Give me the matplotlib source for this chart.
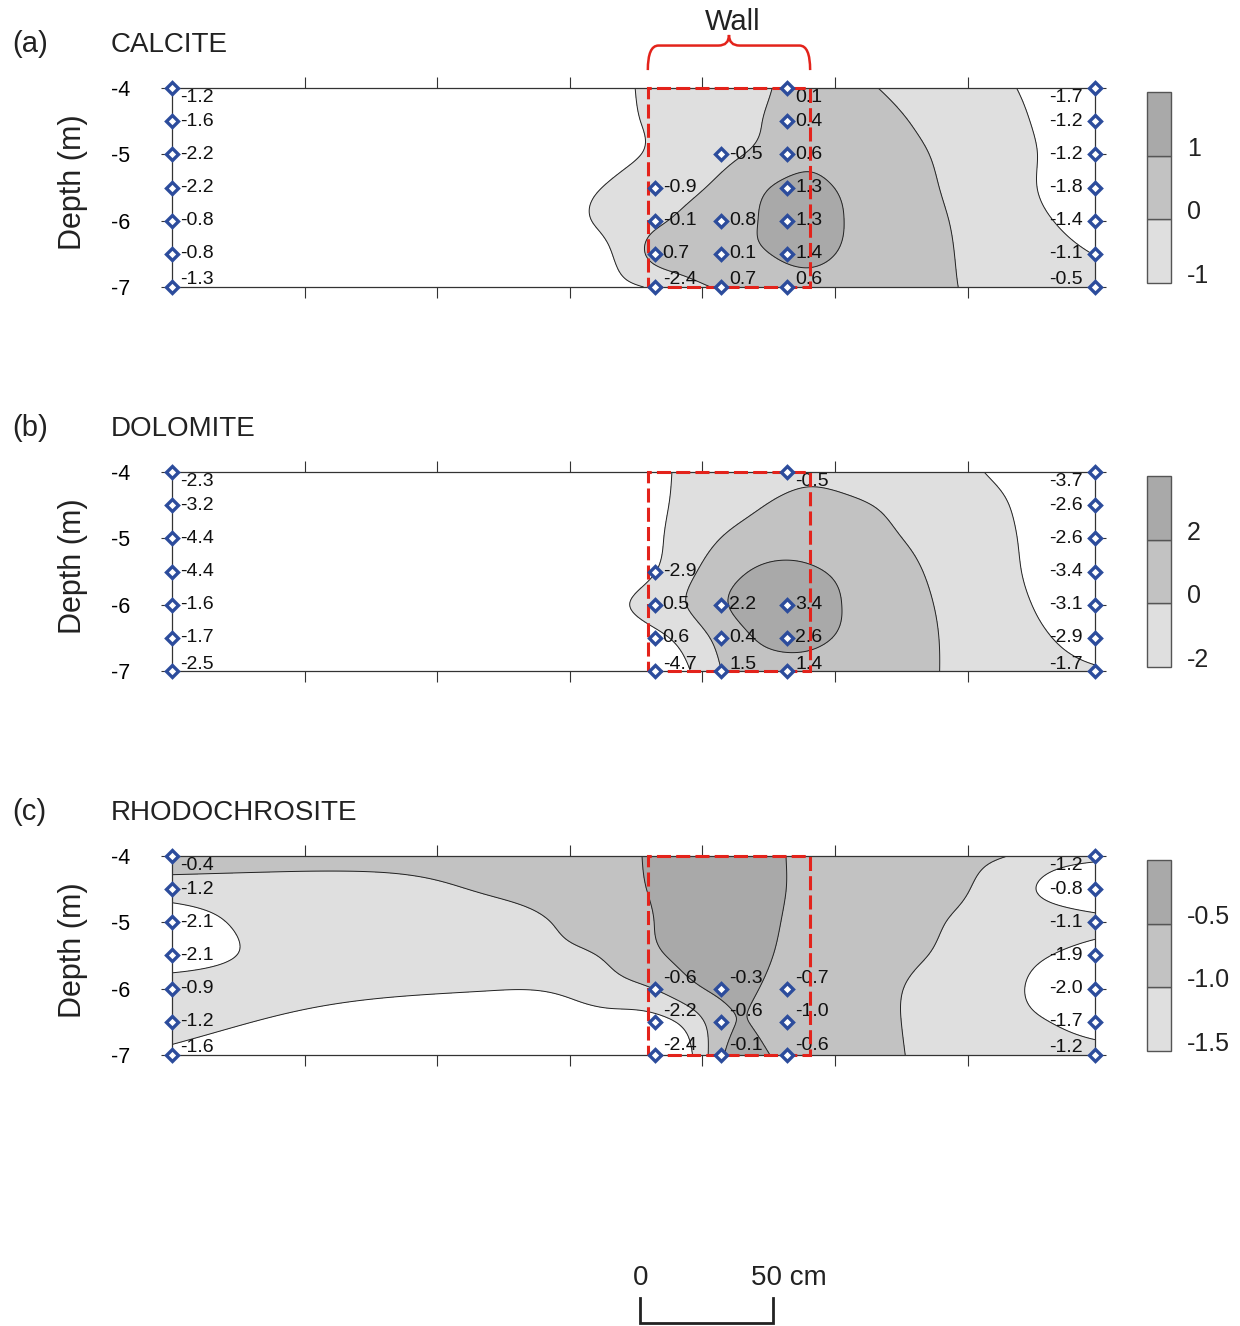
import numpy as np
import matplotlib
matplotlib.use("Agg")
import matplotlib.pyplot as plt
from matplotlib.path import Path
from matplotlib.patches import PathPatch, Rectangle
from matplotlib import transforms as mtrans

plt.rcParams['font.family'] = ['Liberation Sans', 'DejaVu Sans']
plt.rcParams['axes.unicode_minus'] = False
plt.rcParams['contour.negative_linestyle'] = 'solid'

# ---------------- data ----------------
depths = [-4.0, -4.5, -5.0, -5.5, -6.0, -6.5, -7.0]
left_col_cm = 0.0
right_col_cm = 348.0
wall_cols_cm = [182.0, 207.0, 232.0]
wall_left_cm, wall_right_cm = 179.4, 240.6
x_ticks_cm = [50, 100, 150, 200, 250, 300]
depth_ticks = [-4, -5, -6, -7]

calcite_left = [-1.2, -1.6, -2.2, -2.2, -0.8, -0.8, -1.3]
calcite_right = [-1.7, -1.2, -1.2, -1.8, -1.4, -1.1, -0.5]
calcite_wall_col = [0, 0, 0, 0, 1, 1, 1, 1, 2, 2, 2, 2, 2, 2, 2]
calcite_wall_depth = [-5.5, -6, -6.5, -7, -5, -6, -6.5, -7, -4, -4.5, -5, -5.5, -6, -6.5, -7]
calcite_wall_value = [-0.9, -0.1, 0.7, -2.4, -0.5, 0.8, 0.1, 0.7, 0.1, 0.4, 0.6, 1.3, 1.3, 1.4, 0.6]

dolomite_left = [-2.3, -3.2, -4.4, -4.4, -1.6, -1.7, -2.5]
dolomite_right = [-3.7, -2.6, -2.6, -3.4, -3.1, -2.9, -1.7]
dolomite_wall_col = [0, 0, 0, 0, 1, 1, 1, 2, 2, 2, 2]
dolomite_wall_depth = [-5.5, -6, -6.5, -7, -6, -6.5, -7, -4, -6, -6.5, -7]
dolomite_wall_value = [-2.9, 0.5, 0.6, -4.7, 2.2, 0.4, 1.5, -0.5, 3.4, 2.6, 1.4]

rhodo_left = [-0.4, -1.2, -2.1, -2.1, -0.9, -1.2, -1.6]
rhodo_right = [-1.2, -0.8, -1.1, -1.9, -2.0, -1.7, -1.2]
rhodo_wall_col = [0, 0, 0, 1, 1, 1, 2, 2, 2]
rhodo_wall_depth = [-6, -6.5, -7, -6, -6.5, -7, -6, -6.5, -7]
rhodo_wall_value = [-0.6, -2.2, -2.4, -0.3, -0.6, -0.1, -0.7, -1.0, -0.6]

# contoured (gridded) fields: rows = depths, cols = grid_x_cm
grid_x_cm = [0, 40, 80, 120, 150, 165, 180, 195, 210, 225, 240, 255, 270, 285, 300, 315, 330, 348]

calcite_field = [
    [-1.6, -1.6, -1.6, -1.6, -1.50, -1.19, -0.90, -0.61, -0.32, -0.03, 0.28, 0.22, -0.08, -0.36, -0.65, -0.93, -1.21, -1.3],
    [-1.6, -1.6, -1.6, -1.6, -1.54, -1.24, -0.93, -0.60, -0.27, 0.05, 0.32, 0.41, 0.15, -0.14, -0.47, -0.79, -1.14, -1.3],
    [-1.6, -1.6, -1.6, -1.6, -1.55, -1.25, -0.93, -0.54, -0.14, 0.27, 0.70, 0.47, 0.24, 0.01, -0.35, -0.71, -1.08, -1.3],
    [-1.6, -1.6, -1.6, -1.6, -1.27, -0.93, -0.56, -0.19, 0.33, 0.98, 1.22, 0.83, 0.47, 0.11, -0.28, -0.68, -1.09, -1.3],
    [-1.6, -1.6, -1.6, -1.6, -1.19, -0.80, -0.24, 0.25, 0.69, 1.11, 1.33, 0.95, 0.57, 0.20, -0.18, -0.57, -0.95, -1.3],
    [-1.6, -1.6, -1.6, -1.6, -1.39, -1.06, 0.10, 0.48, 0.76, 0.99, 1.22, 0.85, 0.53, 0.21, -0.10, -0.39, -0.69, -1.02],
    [-1.6, -1.6, -1.6, -1.6, -1.60, -1.28, -0.93, -0.27, 0.16, 0.41, 0.57, 0.42, 0.27, 0.12, -0.04, -0.22, -0.39, -0.6],
]
dolomite_field = [
    [-3, -3, -3, -3, -3, -3, -2.44, -1.67, -1.09, -0.76, -0.42, -0.69, -0.99, -1.34, -1.76, -2.40, -3, -3],
    [-3, -3, -3, -3, -3, -3, -2.41, -1.55, -0.70, 0.06, 0.45, 0.22, -0.18, -0.77, -1.37, -1.96, -3, -3],
    [-3, -3, -3, -3, -3, -3, -2.41, -1.11, 0.26, 1.04, 1.15, 0.67, 0.19, -0.40, -1.08, -1.75, -2.76, -3],
    [-3, -3, -3, -3, -3, -3, -2.25, -0.40, 1.43, 2.31, 2.22, 1.56, 0.72, -0.10, -0.87, -1.64, -2.62, -3],
    [-3, -3, -3, -3, -3, -2.46, -1.43, 0.13, 2.02, 2.72, 2.58, 1.86, 0.99, 0.12, -0.67, -1.44, -2.33, -3],
    [-3, -3, -3, -3, -3, -3, -2.51, -1.19, 1.09, 2.30, 2.34, 1.70, 0.95, 0.20, -0.51, -1.20, -1.90, -3],
    [-3, -3, -3, -3, -3, -3, -2.89, -2.06, 0.41, 1.19, 1.27, 0.89, 0.50, 0.12, -0.30, -0.74, -1.18, -1.7],
]
rhodo_field = [
    [-0.70, -0.72, -0.72, -0.75, -0.75, -0.68, -0.46, -0.33, -0.30, -0.44, -0.57, -0.70, -0.80, -0.86, -0.93, -1.00, -1.18, -1.30],
    [-1.25, -1.22, -1.20, -0.94, -0.75, -0.62, -0.49, -0.35, -0.30, -0.44, -0.57, -0.71, -0.81, -0.90, -0.99, -1.25, -1.60, -2.00],
    [-1.80, -1.30, -1.25, -1.20, -0.91, -0.70, -0.52, -0.36, -0.29, -0.45, -0.60, -0.75, -0.85, -0.95, -1.07, -1.20, -1.25, -1.35],
    [-1.80, -1.36, -1.25, -1.18, -1.08, -0.93, -0.60, -0.40, -0.32, -0.48, -0.64, -0.79, -0.90, -1.00, -1.15, -1.31, -1.48, -1.80],
    [-1.25, -1.35, -1.43, -1.48, -1.40, -1.20, -1.03, -0.63, -0.40, -0.55, -0.70, -0.83, -0.95, -1.09, -1.25, -1.40, -1.64, -1.85],
    [-1.30, -1.55, -1.67, -1.70, -1.70, -1.68, -1.65, -1.31, -0.55, -0.61, -0.75, -0.84, -0.96, -1.08, -1.21, -1.35, -1.49, -1.75],
    [-1.60, -1.80, -1.80, -1.80, -1.80, -1.78, -1.75, -1.58, -0.40, -0.49, -0.65, -0.80, -0.95, -1.06, -1.15, -1.16, -1.18, -1.20],
]

calcite_levels = [-1, 0, 1, 2]
dolomite_levels = [-2, 0, 2, 4]
rhodo_levels = [-1.5, -1.0, -0.5, 0.0]
calcite_cbar_labels = ['-1', '0', '1']
dolomite_cbar_labels = ['-2', '0', '2']
rhodo_cbar_labels = ['-1.5', '-1.0', '-0.5']

# ---------------- styles ----------------
W, H = 1240, 1326
fill_colors = ['#ffffff', '#dfdfdf', '#c2c2c2', '#a9a9a9']
blue = '#2c4c9c'
red = '#e3231b'
line_col = '#333333'


def spline_weights(xk, xf):
    xk = np.asarray(xk, float)
    xf = np.asarray(xf, float)
    n = len(xk)
    h = np.diff(xk)
    A = np.zeros((n, n))
    B = np.zeros((n, n))
    A[0, 0] = A[-1, -1] = 1.0
    for i in range(1, n - 1):
        A[i, i - 1] = h[i - 1]
        A[i, i] = 2 * (h[i - 1] + h[i])
        A[i, i + 1] = h[i]
        B[i, i - 1] = 6 / h[i - 1]
        B[i, i] = -6 / h[i - 1] - 6 / h[i]
        B[i, i + 1] = 6 / h[i]
    M = np.linalg.solve(A, B)
    idx = np.clip(np.searchsorted(xk, xf, side='right') - 1, 0, n - 2)
    x0 = xk[idx]
    x1 = xk[idx + 1]
    hh = x1 - x0
    a = (x1 - xf) / hh
    b = (xf - x0) / hh
    Wm = np.zeros((len(xf), n))
    r = np.arange(len(xf))
    Wm[r, idx] += a
    Wm[r, idx + 1] += b
    Wm += ((a ** 3 - a) * hh ** 2 / 6)[:, None] * M[idx] + ((b ** 3 - b) * hh ** 2 / 6)[:, None] * M[idx + 1]
    return Wm


def fig_box(l, t, r, b):
    return [l / W, 1 - b / H, (r - l) / W, (b - t) / H]


fig = plt.figure(figsize=(W / 100, H / 100), dpi=100)

panels = [
    dict(tag='(a)', name='CALCITE', top=88, left=calcite_left, right=calcite_right,
         wcol=calcite_wall_col, wdep=calcite_wall_depth, wval=calcite_wall_value,
         field=calcite_field, levels=calcite_levels, cbl=calcite_cbar_labels, wall_dy=0),
    dict(tag='(b)', name='DOLOMITE', top=472, left=dolomite_left, right=dolomite_right,
         wcol=dolomite_wall_col, wdep=dolomite_wall_depth, wval=dolomite_wall_value,
         field=dolomite_field, levels=dolomite_levels, cbl=dolomite_cbar_labels, wall_dy=0),
    dict(tag='(c)', name='RHODOCHROSITE', top=856, left=rhodo_left, right=rhodo_right,
         wcol=rhodo_wall_col, wdep=rhodo_wall_depth, wval=rhodo_wall_value,
         field=rhodo_field, levels=rhodo_levels, cbl=rhodo_cbar_labels, wall_dy=10),
]

xf = np.linspace(0, right_col_cm, 700)
dpos = -np.asarray(depths)          # 4 ... 7 increasing
df = np.linspace(dpos[0], dpos[-1], 301)
Wx = spline_weights(grid_x_cm, xf)
Wd = spline_weights(dpos, df)


def default_dy(d):
    if d == -4:
        return -10
    if d == -7:
        return 7
    return 0


for p in panels:
    top = p['top']
    ax = fig.add_axes(fig_box(172, top, 1095, top + 199))
    G = np.asarray(p['field'], float)
    F = Wd @ G @ Wx.T
    lv = p['levels']
    ax.contourf(xf, -df, F, levels=[-100] + lv[:3] + [100], colors=fill_colors, zorder=1)
    ax.contour(xf, -df, F, levels=lv[:3], colors='#222222', linewidths=0.7,
               linestyles='solid', zorder=2)
    ax.set_xlim(0, right_col_cm)
    ax.set_ylim(-7, -4)
    ax.set_xticks(x_ticks_cm)
    ax.set_yticks(depth_ticks)
    ax.set_yticklabels([f'{t:d}' for t in depth_ticks])
    ax.tick_params(axis='x', top=True, bottom=True, direction='out', length=8, width=0.8,
                   color=line_col, labelbottom=False, labeltop=False)
    ax.tick_params(axis='y', left=True, right=True, direction='out', length=8, width=0.8,
                   color=line_col, labelsize=15.5, pad=22, labelright=False)
    for s in ax.spines.values():
        s.set_color(line_col)
        s.set_linewidth(0.9)
        s.set_zorder(3)

    # wall outline
    ax.add_patch(Rectangle((wall_left_cm, -7), wall_right_cm - wall_left_cm, 3, fill=False,
                           edgecolor=red, linewidth=2.2, linestyle=(0, (4.6, 1.7)),
                           clip_on=False, zorder=5))

    # samples
    xs_all, ds_all = [], []
    for d, v in zip(depths, p['left']):
        ax.annotate(f'{v:.1f}', xy=(left_col_cm, d), xytext=(8, default_dy(d)),
                    textcoords='offset pixels', ha='left', va='center', fontsize=14,
                    color='#111111', annotation_clip=False, zorder=4)
        xs_all.append(left_col_cm); ds_all.append(d)
    for d, v in zip(depths, p['right']):
        ax.annotate(f'{v:.1f}', xy=(right_col_cm, d), xytext=(-12, default_dy(d)),
                    textcoords='offset pixels', ha='right', va='center', fontsize=14,
                    color='#111111', annotation_clip=False, zorder=4)
        xs_all.append(right_col_cm); ds_all.append(d)
    for c, d, v in zip(p['wcol'], p['wdep'], p['wval']):
        x = wall_cols_cm[c]
        dy = p['wall_dy'] if p['wall_dy'] else default_dy(d)
        ax.annotate(f'{v:.1f}', xy=(x, d), xytext=(8, dy),
                    textcoords='offset pixels', ha='left', va='center', fontsize=14,
                    color='#111111', annotation_clip=False, zorder=4)
        xs_all.append(x); ds_all.append(d)
    ax.plot(xs_all, ds_all, linestyle='none', marker='D', ms=6.4, mfc='white',
            mec=blue, mew=2.4, clip_on=False, zorder=6)

    # titles
    fig.text(12 / W, 1 - (top - 44) / H, p['tag'], fontsize=21, ha='left', va='center', color='#222222')
    fig.text(111 / W, 1 - (top - 43) / H, p['name'], fontsize=20, ha='left', va='center', color='#222222')
    fig.text(73 / W, 1 - (top + 94) / H, 'Depth (m)', rotation=90, ha='center', va='center',
             fontsize=22, color='#222222')

    # colour scale
    cax = fig.add_axes(fig_box(1147, top + 4, 1171, top + 195))
    cax.set_xlim(0, 1)
    cax.set_ylim(lv[0], lv[-1])
    cax.axis('off')
    for i in range(3):
        bars = cax.bar(0.5, lv[i + 1] - lv[i], bottom=lv[i], width=1, color=fill_colors[i + 1],
                       edgecolor='#555555', linewidth=1.0)
        for b in bars:
            b.set_clip_on(False)
    trans = mtrans.offset_copy(mtrans.blended_transform_factory(cax.transAxes, cax.transData),
                               fig=fig, x=16, y=0, units='dots')
    for lvl, lab in zip(lv[:3], p['cbl']):
        cax.text(1, lvl, lab, transform=trans, ha='left', va='baseline', fontsize=18, color='#222222')

    if p['tag'] == '(a)':
        x0, x1 = wall_left_cm, wall_right_cm
        xm = (x0 + x1) / 2
        y_end, y_h, y_tip, r = -3.73, -3.36, -3.20, 4.0
        verts = [(x0, y_end), (x0, y_h), (x0 + r, y_h), (xm - r, y_h), (xm, y_h), (xm, y_tip),
                 (xm, y_h), (xm + r, y_h), (x1 - r, y_h), (x1, y_h), (x1, y_end)]
        codes = [Path.MOVETO, Path.CURVE3, Path.CURVE3, Path.LINETO, Path.CURVE3, Path.CURVE3,
                 Path.CURVE3, Path.CURVE3, Path.LINETO, Path.CURVE3, Path.CURVE3]
        ax.add_patch(PathPatch(Path(verts, codes), fill=False, edgecolor=red, linewidth=1.8,
                               clip_on=False, zorder=5))
        ax.text(xm + 1.5, -3.0, 'Wall', ha='center', va='center', fontsize=21, color='#222222',
                clip_on=False)

# scale bar
scale_start_cm = 176.5
scale_len_cm = 50
sax = fig.add_axes(fig_box(172, 1250, 1095, 1326))
sax.set_xlim(0, right_col_cm)
sax.set_ylim(0, 76)
sax.axis('off')
xa, xb = scale_start_cm, scale_start_cm + scale_len_cm
sax.plot([xa, xa, xb, xb], [28, 3, 3, 28], color='#222222', linewidth=2.0,
         solid_joinstyle='miter', clip_on=False)
sax.text(xa, 48, '0', ha='center', va='center', fontsize=20, color='#222222')
t2 = mtrans.offset_copy(sax.transData, fig=fig, x=-22, y=0, units='dots')
sax.text(xb, 48, f'{scale_len_cm} cm', transform=t2, ha='left', va='center', fontsize=20,
         color='#222222')

fig.savefig('out.png', dpi=100)
